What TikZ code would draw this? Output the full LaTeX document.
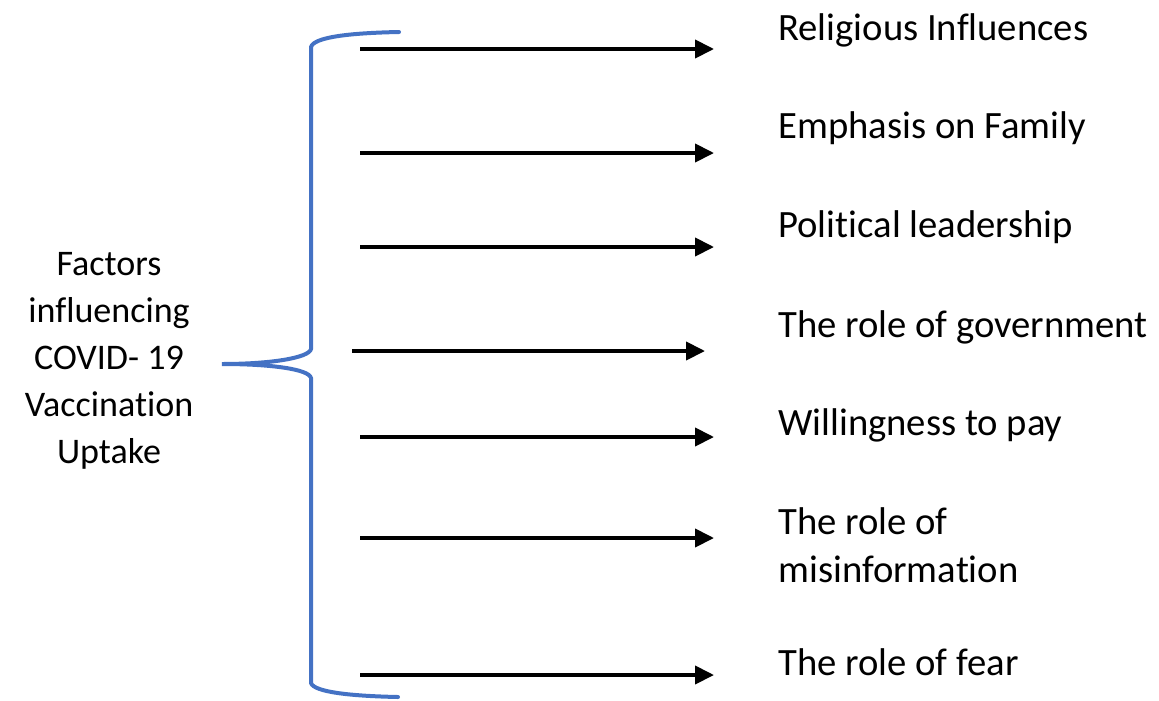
\documentclass[tikz,border=0pt]{standalone}
\usepackage{fontspec}
\setmainfont{Carlito}[Ligatures=NoCommon]
\usepackage{xcolor}
\usetikzlibrary{arrows.meta}

\definecolor{braceblue}{RGB}{68,114,196}
\tikzset{
  factor/.style={anchor=base west, inner sep=0pt, font=\fontsize{22}{27.3}\selectfont},
  topic/.style={align=center, inner sep=0pt, font=\fontsize{20.5}{26.7}\selectfont},
  link/.style={line width=0.08cm, -{Triangle[length=0.38cm,width=0.36cm]}}
}

\begin{document}
\begin{tikzpicture}[x=0.02cm,y=-0.02cm]
\useasboundingbox (0,0) rectangle (1159,700);
\node[topic] (T) at (109,361) {Factors\\influencing\\COVID- 19\\Vaccination\\Uptake};

% the brace
\draw[braceblue, line width=0.08cm, line cap=round]
  (399,32) .. controls (350,33) and (314,37) .. (311,47) -- (311,349)
  .. controls (309,358) and (270,364) .. (222,364)
  .. controls (270,364) and (309,369) .. (311,378) -- (311,683)
  .. controls (314,692) and (350,696) .. (398,697);

  \node[factor]        (F1) at (778,40)   {Religious Influences};
  \node[factor]        (F2) at (778,138)  {Emphasis on Family};
  \node[factor]        (F3) at (778,237)  {Political leadership};
  \node[factor]        (F4) at (778,337)  {The role of government};
  \node[factor]        (F5) at (778,435)  {Willingness to pay};
  \node[factor, align=left] (F6) at (778,582) {The role of\\misinformation};
  \node[factor]        (F7) at (778,675)  {The role of fear};

  \coordinate (A1) at (360,49);  \coordinate (B1) at (714,49);
  \coordinate (A2) at (360,153); \coordinate (B2) at (714,153);
  \coordinate (A3) at (360,247); \coordinate (B3) at (714,247);
  \coordinate (A4) at (352,351); \coordinate (B4) at (705,351);
  \coordinate (A5) at (360,437); \coordinate (B5) at (714,437);
  \coordinate (A6) at (360,538); \coordinate (B6) at (714,538);
  \coordinate (A7) at (360,675); \coordinate (B7) at (714,675);

  \path[link]
        (A1) edge (B1)
        (A2) edge (B2)
        (A3) edge (B3)
        (A4) edge (B4)
        (A5) edge (B5)
        (A6) edge (B6)
        (A7) edge (B7);
\end{tikzpicture}
\end{document}
